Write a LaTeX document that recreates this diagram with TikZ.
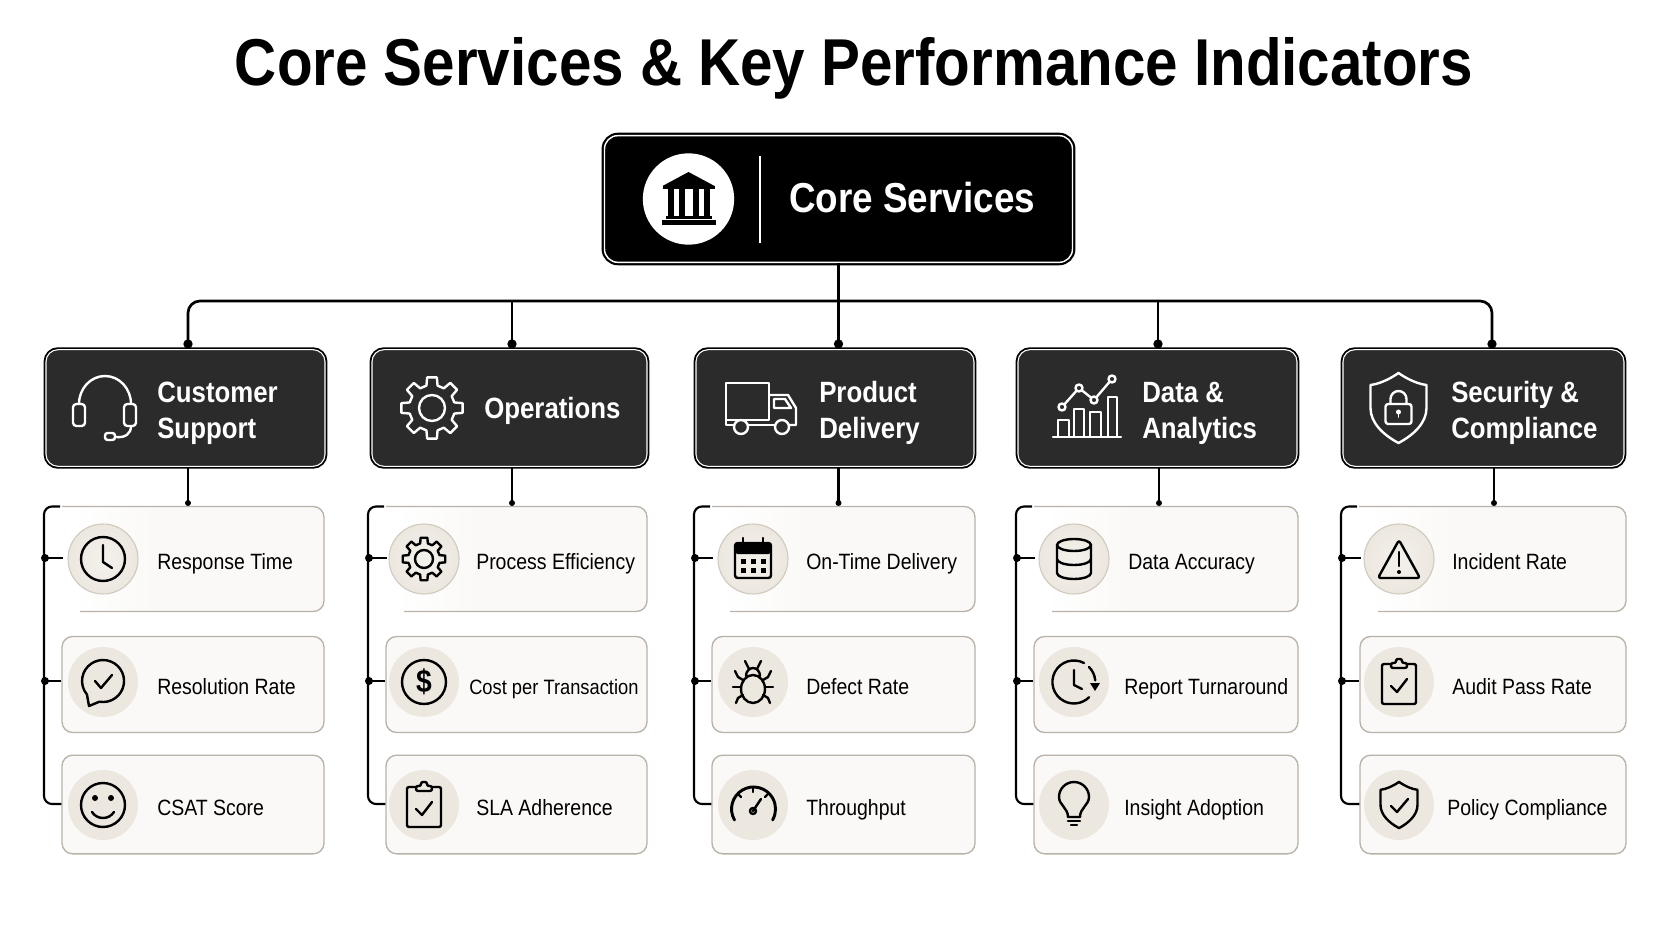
\documentclass[tikz,border=0pt]{standalone}
\usepackage{fontspec}
\setmainfont[FakeStretch=0.88]{Liberation Sans}

\definecolor{cat_fill}{HTML}{2B2B2B}
\definecolor{kpi_fill}{HTML}{FAF9F7}
\definecolor{kpi_line}{HTML}{B8B2A8}
\definecolor{disc_fill}{HTML}{ECE7DF}
\definecolor{disc_soft}{HTML}{F4F1EC}
\definecolor{disc_line}{HTML}{CFC9BE}

\pgfdeclarehorizontalshading{kpifade}{100bp}{color(0bp)=(white); color(30bp)=(white); color(45bp)=(kpi_fill); color(100bp)=(kpi_fill)}

\tikzset{
    ic/.style={draw, line width=1.8pt, line cap=round, line join=round},
}

% Shared outlines
\newcommand{\gearshape}[3]{
    \draw[ic] (256:#2) \foreach \a in {0,45,...,315} {
        -- ({\a+261}:#1) -- ({\a+279}:#1) -- ({\a+284}:#2) -- ({\a+301}:#2)
    } -- cycle;
    \draw[ic] (0,0) circle (#3);
}
\newcommand{\shieldshape}{
    \draw[ic] (0,-35) .. controls (-10,-28) and (-20,-24) .. (-28,-23) -- (-28,0)
        .. controls (-28,15) and (-15,27) .. (0,35)
        .. controls (15,27) and (28,15) .. (28,0) -- (28,-23)
        .. controls (20,-24) and (10,-28) .. (0,-35) -- cycle;
}
\newcommand{\boardshape}{
    \draw[ic, rounded corners=1.5pt] (-8,-18) -- (-17,-18) -- (-17,22) -- (17,22) -- (17,-18) -- (8,-18);
    \draw[ic, rounded corners=1.5pt] (-8,-14) -- (8,-14) -- (8,-19) -- (3,-19) -- (3,-23) -- (-3,-23) -- (-3,-19) -- (-8,-19) -- cycle;
    \draw[ic] (-8,4) -- (-2,10) -- (8,-3);
}

% Category icons
\newcommand{\icHeadset}{
    \draw[ic] (-26,-4) arc[start angle=180, end angle=360, x radius=26, y radius=28];
    \draw[ic, rounded corners=2.5pt] (-32,-4) rectangle (-20,18);
    \draw[ic, rounded corners=2.5pt] (19,-4) rectangle (31,18);
    \draw[ic] (26,18) .. controls (26,26) and (20,30) .. (11,29);
    \draw[ic, rounded corners=2pt] (0,25) rectangle (10,32);
}
\newcommand{\icGearBig}{\gearshape{31}{23}{13}}
\newcommand{\icTruck}{
    \draw[ic] (-34,-25) rectangle (9,12);
    \draw[ic] (-34,12) -- (-34,17) -- (-26,17);
    \draw[ic] (-12,17) -- (15,17);
    \draw[ic] (29,17) -- (36,17) -- (36,0) -- (28,-13) -- (10,-13);
    \draw[ic] (14,-9) -- (25,-9) -- (31,0) -- (14,0) -- cycle;
    \draw[ic] (-19,19) circle (7);
    \draw[ic] (22,19) circle (7);
}
\newcommand{\icChart}{
    \draw[ic] (-34,29) -- (34,29);
    \draw[ic] (-29,29) -- (-29,12) -- (-18,12) -- (-18,29);
    \draw[ic] (-13,29) -- (-13,1) -- (-3,1) -- (-3,29);
    \draw[ic] (3,29) -- (3,4) -- (14,4) -- (14,29);
    \draw[ic] (21,29) -- (21,-11) -- (30,-11) -- (30,29);
    \draw[ic] (-25,-1) -- (-8,-20) -- (7,-8) -- (25,-29);
    \foreach \p in {(-25,-1),(-8,-20),(7,-8),(25,-29)} {
        \draw[ic, fill=cat_fill] \p circle (3.5);
    }
}
\newcommand{\icShieldLock}{
    \shieldshape
    \draw[ic, rounded corners=2pt] (-13,-4) rectangle (13,16);
    \draw[ic] (-8,-4) -- (-8,-9) arc[start angle=180, end angle=360, radius=8] -- (8,-4);
    \fill (0,4) circle (2.5);
    \draw[ic, line width=1.2pt] (0,5) -- (0,9);
}

% KPI icons
\newcommand{\icClock}{
    \draw[ic] (0,0) circle (22);
    \draw[ic] (0,-14) -- (0,3) -- (9,9);
}
\newcommand{\icChat}{
    \draw[ic] (-3.6,19.7) arc[start angle=100, end angle=-220, radius=21] -- (-14,24) -- cycle;
    \draw[ic] (-8,-1) -- (-2,6) -- (9,-7);
}
\newcommand{\icSmile}{
    \draw[ic] (0,0) circle (22);
    \fill (-8,-7) circle (3);
    \fill (8,-7) circle (3);
    \draw[ic] (-11,7) .. controls (-6,15) and (6,15) .. (11,7);
}
\newcommand{\icGearSmall}{\gearshape{21.5}{16}{9}}
\newcommand{\icDollar}{
    \draw[ic] (0,0) circle (22);
    \node[font=\bfseries\fontsize{24}{24}\selectfont, inner sep=0pt] (dollar) at (0,0) {\$};
}
\newcommand{\icBoard}{\boardshape}
\newcommand{\icCalendar}{
    \draw[ic, rounded corners=2pt] (-18,-16) rectangle (18,19);
    \fill[rounded corners=2pt] (-18,-16) rectangle (18,-5);
    \draw[ic] (-10,-21) -- (-10,-13);
    \draw[ic] (10,-21) -- (10,-13);
    \foreach \x in {-10,0,10} {
        \foreach \y in {2,11} {
            \fill (\x-2.5,\y-2.5) rectangle (\x+2.5,\y+2.5);
        }
    }
}
\newcommand{\icBug}{
    \draw[ic] (0,7) ellipse (12 and 14);
    \draw[ic] (-7,-6) arc[start angle=180, end angle=360, x radius=7, y radius=8];
    \draw[ic] (-4,-13) -- (-8,-21);
    \draw[ic] (4,-13) -- (8,-21);
    \draw[ic] (-10,-2) -- (-15,-5) -- (-18,-11);
    \draw[ic] (10,-2) -- (15,-5) -- (18,-11);
    \draw[ic] (-12,5) -- (-20,5);
    \draw[ic] (12,5) -- (20,5);
    \draw[ic] (-10,13) -- (-15,16) -- (-17,21);
    \draw[ic] (10,13) -- (15,16) -- (17,21);
}
\newcommand{\icGauge}{
    \draw[ic, line width=2.2pt] (-18.5,15) arc[start angle=150, end angle=390, radius=22];
    \draw[ic] (0,-18) -- (0,-13);
    \draw[ic] (-15,-11) -- (-12,-8);
    \draw[ic] (15,-11) -- (12,-8);
    \draw[ic] (0,6) -- (8,-6);
    \draw[ic] (0,6) circle (3);
}
\newcommand{\icDatabase}{
    \draw[ic] (0,-14) ellipse (17 and 6);
    \draw[ic] (-17,-14) -- (-17,14) arc[start angle=180, end angle=0, x radius=17, y radius=6] -- (17,-14);
    \draw[ic] (-17,0) arc[start angle=180, end angle=0, x radius=17, y radius=6];
}
\newcommand{\icTurnaround}{
    \draw[ic] (10,-19) arc[start angle=-62, end angle=-315, radius=21.5];
    \draw[ic] (15,-15) arc[start angle=-45, end angle=-5, radius=21.5];
    \fill (16,1) -- (26,1) -- (21,9) -- cycle;
    \draw[ic] (0,-12) -- (0,3) -- (8,7);
}
\newcommand{\icBulb}{
    \draw[ic] (-6,12) .. controls (-6,3) and (-15,0) .. (-15,-8)
        arc[start angle=180, end angle=360, radius=15]
        .. controls (15,0) and (6,3) .. (6,12) -- cycle;
    \draw[ic] (-6,16) -- (6,16);
    \draw[ic] (-3,20) -- (3,20);
}
\newcommand{\icWarning}{
    \draw[ic, rounded corners=2pt] (0,-19) -- (21,19) -- (-21,19) -- cycle;
    \draw[ic] (0,-7) -- (0,7);
    \fill (0,13) circle (2);
}
\newcommand{\icShieldCheck}{
    \begin{scope}[scale=0.66]
        \shieldshape
    \end{scope}
    \draw[ic] (-8,1) -- (-2,7) -- (9,-6);
}

\begin{document}
\begin{tikzpicture}[
        x=0.75pt, y=-0.75pt,
        title text/.style={font=\bfseries\fontsize{49.7}{60}\selectfont, inner sep=0pt},
        root box/.style={rectangle, rounded corners=10pt, fill=black, draw=white, line width=1.1pt,
            preaction={draw=black, line width=4.4pt}},
        cat box/.style={rectangle, rounded corners=9pt, fill=cat_fill, draw=white, line width=0.8pt,
            preaction={draw=black, line width=3.6pt}},
        cat text/.style={font=\bfseries\fontsize{22}{27}\selectfont, text=white, align=left, anchor=west, inner sep=0pt},
        kpi box/.style={rectangle, rounded corners=8pt, fill=kpi_fill, draw=kpi_line, line width=1pt},
        kpi first/.style={rectangle, rounded corners=8pt, shading=kpifade},
        kpi disc/.style={circle, fill=disc_fill, minimum size=52.5pt, inner sep=0pt},
        disc first/.style={circle, inner color=disc_soft, outer color=disc_fill, draw=disc_line, line width=0.8pt, minimum size=52.5pt, inner sep=0pt},
        kpi text/.style={font=\fontsize{16.6}{18}\selectfont, anchor=west, inner sep=0pt, text height=0.72em, text depth=0.2em},
        wire/.style={draw, line width=2pt, black},
        thin wire/.style={draw, line width=1.6pt, black},
        dot/.style={circle, fill=black, inner sep=0pt, minimum size=#1}
    ]

    \useasboundingbox (0,0) rectangle (1672,941);

    % Title
    \node[title text] (title) at (854,68) {Core Services \& Key Performance Indicators};

    % Root box
    \node[root box, minimum width=351pt, minimum height=95pt] (root) at (838.5,199) {};
    \node[circle, fill=white, minimum size=68.5pt, inner sep=0pt] (seal) at (688.5,199) {};
    \begin{scope}[shift={(seal.center)}, color=black]
        \fill (0,-27) -- (26,-13) -- (-26,-13) -- cycle;
        \fill (-26,-13) rectangle (26,-10);
        \foreach \x in {-18,-7,7,18} {
            \fill (\x-3,-10) rectangle (\x+3,17);
        }
        \fill (-23,17) rectangle (23,20);
        \fill (-27,21) rectangle (27,26);
    \end{scope}
    \coordinate (rule top) at (760,156);
    \coordinate (rule end) at (760,243);
    \draw[white, line width=1pt] (rule top) -- (rule end);
    \node[font=\bfseries\fontsize{31.4}{36}\selectfont, text=white, anchor=west, inner sep=0pt] (root text) at (789,198) {Core Services};

    % Category boxes, their icons and texts
    \foreach \i/\bl/\br/\ix/\tx/\ty/\ic/\lab in {
        1/46/325/105/157/413/\icHeadset/{Customer\\Support},
        2/372/647/432/484/411/\icGearBig/{Operations},
        3/696/974/760/819/413/\icTruck/{Product\\Delivery},
        4/1018/1297/1087/1142/413/\icChart/{Data \&\\Analytics},
        5/1343/1624/1398.5/1451/413/\icShieldLock/{Security \&\\Compliance}} {
        \node[cat box, minimum width=(\br-\bl)*0.75pt, minimum height=87.5pt] (cat\i) at ({(\bl+\br)/2},408) {};
        \begin{scope}[shift={(\ix,408)}, color=white]
            \ic
        \end{scope}
        \node[cat text] (cat text\i) at (\tx,\ty) {\lab};
    }

    % Bus from the root box to the categories
    \foreach \i/\dx in {1/188,2/512,3/838.5,4/1158,5/1492} {
        \node[dot=7pt] (top\i) at (\dx,344) {};
        \coordinate (bus\i) at (\dx,301);
    }
    \draw[wire, rounded corners=9pt] (top1.center) -- (bus1) -- (bus5) -- (top5.center);
    \draw[wire] (bus2) -- (top2.center);
    \draw[wire] (root.south) -- (top3.center);
    \draw[wire] (bus4) -- (top4.center);

    % KPI boxes per column
    \foreach \i/\tr/\bl/\br/\dx in {
        1/44/62/324/188,
        2/368/386/647/512,
        3/694/712/975/838.5,
        4/1016/1034/1298/1159,
        5/1341/1360/1626/1494} {
        \node[kpi first, minimum width=(\br-\tr)*0.75pt, minimum height=78.75pt] (kpi\i1) at ({(\tr+\br)/2},559) {};
        \node[kpi box, minimum width=(\br-\bl)*0.75pt, minimum height=72pt] (kpi\i2) at ({(\bl+\br)/2},684.5) {};
        \node[kpi box, minimum width=(\br-\bl)*0.75pt, minimum height=74pt] (kpi\i3) at ({(\bl+\br)/2},804.5) {};
        % open border of the first box
        \draw[kpi_line, line width=1pt, rounded corners=8pt] (\bl+18,611.5) -- (\br,611.5) -- (\br,506.5) -- (\tr+18,506.5);
        % drop from the category box
        \node[dot=4.5pt] (drop\i) at (\dx,503) {};
        \draw[thin wire] (cat\i.south -| drop\i) -- (drop\i.center);
        % trunk and branches
        \draw[thin wire, rounded corners=6pt] (\tr+16,506.5) -- (\tr,506.5) -- (\tr,804) -- (kpi\i3.west |- 0,804);
        \node[dot=6pt] (knot\i1) at (\tr+1,558) {};
        \node[dot=6pt] (knot\i2) at (\tr+1,681) {};
        \draw[thin wire] (knot\i1.center) -- (\bl+1,558);
        \draw[thin wire] (knot\i2.center) -- (kpi\i2.west |- knot\i2);
    }

    % KPI discs, icons and texts
    \foreach \i/\dx/\ta/\tb/\tc/\ia/\ib/\ic/\la/\lb/\lc in {
        1/103/157/157/157/\icClock/\icChat/\icSmile/{Response Time}/{Resolution Rate}/{CSAT Score},
        2/424/476/469/476/\icGearSmall/\icDollar/\icBoard/{Process Efficiency}/{\fontsize{15.6}{18}\selectfont Cost per Transaction}/{SLA Adherence},
        3/753/806/806/806/\icCalendar/\icBug/\icGauge/{On-Time Delivery}/{Defect Rate}/{Throughput},
        4/1074/1128/1124/1124/\icDatabase/\icTurnaround/\icBulb/{Data Accuracy}/{Report Turnaround}/{Insight Adoption},
        5/1399/1452/1452/1447/\icWarning/\icBoard/\icShieldCheck/{Incident Rate}/{Audit Pass Rate}/{Policy Compliance}} {
        \node[disc first] (disc\i1) at (\dx,559) {};
        \node[kpi disc] (disc\i2) at (\dx,682) {};
        \node[kpi disc] (disc\i3) at (\dx,805) {};
        \begin{scope}[shift={(disc\i1.center)}, color=black] \ia \end{scope}
        \begin{scope}[shift={(disc\i2.center)}, color=black] \ib \end{scope}
        \begin{scope}[shift={(disc\i3.center)}, color=black] \ic \end{scope}
        \node[kpi text] (kpi text\i1) at (\ta,566) {\la};
        \node[kpi text] (kpi text\i2) at (\tb,691) {\lb};
        \node[kpi text] (kpi text\i3) at (\tc,812) {\lc};
    }

\end{tikzpicture}
\end{document}
